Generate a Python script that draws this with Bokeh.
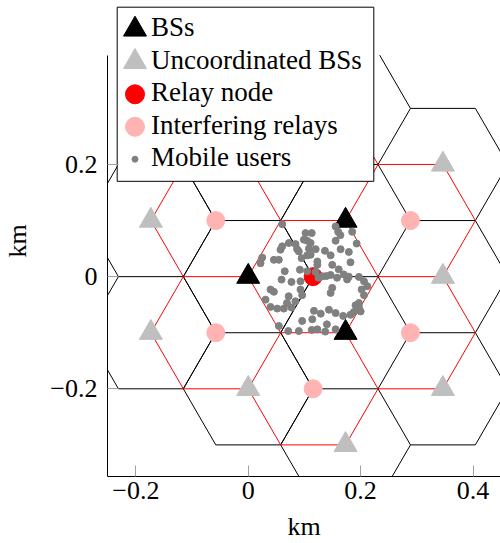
import math
from bokeh.plotting import figure
from bokeh.models import Range1d, FixedTicker, ColumnDataSource, Label
from bokeh.embed import file_html
from bokeh.resources import INLINE

# ---------------- data (km) ----------------
bs_x = [0.0, 0.1732, 0.1732]
bs_y = [0.0, 0.1, -0.1]

ubs_x = [-0.1732, -0.1732, 0.0, 0.0, 0.1732, 0.1732, 0.3464, 0.3464, 0.3464]
ubs_y = [0.1, -0.1, 0.2, -0.2, 0.3, -0.3, 0.2, 0.0, -0.2]

relay_x = [0.1155]
relay_y = [0.0]

irelay_x = [-0.0577, -0.0577, 0.1155, 0.1155, 0.2887, 0.2887]
irelay_y = [0.1, -0.1, 0.2, -0.2, 0.1, -0.1]

cell_radius = 0.1155

users_x = [0.0605, 0.102, 0.113, 0.1555, 0.160, 0.185, 0.105, 0.111, 0.1555, 0.0723,
           0.0842, 0.0605, 0.0575, 0.090, 0.108, 0.120, 0.1365, 0.1644, 0.095, 0.105,
           0.123, 0.0457, 0.0545, 0.0249, 0.0219, 0.1466, 0.182, 0.1495, 0.092, 0.065,
           0.105, 0.120, 0.132, 0.1466, 0.158, 0.170, 0.197, 0.0593, 0.077, 0.093,
           0.125, 0.093, 0.0397, 0.1495, 0.2018, 0.212, 0.0457, 0.096, 0.1466, 0.072,
           0.0308, 0.206, 0.069, 0.197, 0.0397, 0.0516, 0.0634, 0.077, 0.191, 0.188,
           0.1436, 0.1555, 0.169, 0.182, 0.117, 0.129, 0.114, 0.096, 0.0545, 0.0713,
           0.090, 0.123, 0.137, 0.140, 0.1555, 0.123, 0.206,
           0.193, 0.176, 0.113, 0.111, 0.179, 0.084, 0.200, 0.179, 0.161,
           0.099, 0.139, 0.087, 0.197, 0.164]
users_y = [0.0936, 0.0776, 0.0776, 0.0895, 0.080, 0.080, 0.064, 0.060, 0.064, 0.060,
           0.058, 0.054, 0.048, 0.045, 0.050, 0.049, 0.046, 0.049, 0.033, 0.038,
           0.027, 0.030, 0.030, 0.034, 0.024, 0.038, 0.0256, 0.021, 0.0124, 0.0096,
           0.0096, 0.0084, 0.0007, 0.003, -0.002, 0.004, -0.0005, -0.0053, -0.0094, -0.0083,
           -0.002, -0.023, -0.023, -0.020, -0.023, -0.017, -0.027, -0.033, -0.029, -0.035,
           -0.041, -0.033, -0.047, -0.047, -0.054, -0.057, -0.057, -0.055, -0.051, -0.063,
           -0.059, -0.065, -0.070, -0.068, -0.061, -0.066, -0.076, -0.079, -0.088, -0.097,
           -0.097, -0.094, -0.098, -0.085, -0.094, 0.021, -0.0083,
           0.059, -0.005, -0.095, 0.039, 0.044, -0.044, -0.062, 0.000, 0.013,
           0.066, 0.001, 0.049, -0.054, 0.074]

x_ticks = [-0.2, 0.0, 0.2, 0.4]
y_ticks = [-0.2, 0.0, 0.2]
x_tick_labels = ["\u22120.2", "0", "0.2", "0.4"]
y_tick_labels = ["\u22120.2", "0", "0.2"]

legend_labels = ["BSs", "Uncoordinated BSs", "Relay node", "Interfering relays", "Mobile users"]

x_min, x_max = -0.2504, 0.4489
y_min, y_axis_top = -0.3564, 0.395
y_frame_top = 0.4835

# ---------------- helpers ----------------
def hex_segments(cx, cy, r, ytop):
    segs = []
    pts = [(cx + r * math.cos(math.radians(a)), cy + r * math.sin(math.radians(a)))
           for a in range(0, 360, 60)]
    for i in range(6):
        x0, y0 = pts[i]
        x1, y1 = pts[(i + 1) % 6]
        if y0 > ytop and y1 > ytop:
            continue
        if y0 > ytop:
            t = (ytop - y0) / (y1 - y0)
            x0, y0 = x0 + t * (x1 - x0), ytop
        elif y1 > ytop:
            t = (ytop - y0) / (y1 - y0)
            x1, y1 = x0 + t * (x1 - x0), ytop
        segs.append((x0, y0, x1, y1))
    return segs


def unique_segments(centers_x, centers_y, r, ytop):
    seen = set()
    out = {"x0": [], "y0": [], "x1": [], "y1": []}
    for cx, cy in zip(centers_x, centers_y):
        for s in hex_segments(cx, cy, r, ytop):
            a = (round(s[0], 3), round(s[1], 3))
            b = (round(s[2], 3), round(s[3], 3))
            key = tuple(sorted([a, b]))
            if key in seen:
                continue
            seen.add(key)
            out["x0"].append(s[0]); out["y0"].append(s[1])
            out["x1"].append(s[2]); out["y1"].append(s[3])
    return out


W, H = 500, 543
LEFT, TOP, BOTTOM = 107, 5, 66
FRAME_W, FRAME_H = W - LEFT, H - TOP - BOTTOM

p = figure(width=W, height=H,
           x_range=Range1d(x_min, x_max), y_range=Range1d(y_min, y_frame_top),
           output_backend="svg", toolbar_location=None,
           min_border_left=LEFT, min_border_top=TOP, min_border_right=0,
           min_border_bottom=BOTTOM)
p.extra_x_ranges = {"px": Range1d(0, FRAME_W)}
p.extra_y_ranges = {"px": Range1d(FRAME_H, 0)}
p.outline_line_color = None
p.grid.visible = False
p.background_fill_color = "white"
p.border_fill_color = "white"

# cells
black = unique_segments(bs_x + ubs_x, bs_y + ubs_y, cell_radius, y_axis_top)
red = unique_segments(relay_x + irelay_x, relay_y + irelay_y, cell_radius, y_axis_top)
p.segment(x0="x0", y0="y0", x1="x1", y1="y1", source=ColumnDataSource(black),
          line_color="black", line_width=1)
p.segment(x0="x0", y0="y0", x1="x1", y1="y1", source=ColumnDataSource(red),
          line_color="#ff0000", line_width=1)

# nodes
p.scatter(bs_x, bs_y, marker="triangle", size=23, fill_color="black", line_color="black")
p.scatter(ubs_x, ubs_y, marker="triangle", size=23, fill_color="#bfbfbf", line_color="#bfbfbf")
p.scatter(relay_x, relay_y, marker="circle", size=18, fill_color="#ff0000", line_color="#ff0000")
p.scatter(irelay_x, irelay_y, marker="circle", size=18, fill_color="#ffb3b3", line_color="#ffb3b3")
p.scatter(users_x, users_y, marker="circle", size=7, fill_color="#808080", line_color="#808080")

# legend (drawn in pixel units of the frame)
p.quad(left=[9.7], right=[266.3], top=[1.7], bottom=[176.2], fill_color="white",
       line_color="black", line_width=1, x_range_name="px", y_range_name="px")
rows = [22 + 32.5 * i for i in range(5)]
leg = ColumnDataSource(dict(
    x=[27.5] * 5, y=[r + 2 for r in rows],
    marker=["triangle", "triangle", "circle", "circle", "circle"],
    size=[23, 23, 19, 19, 6],
    color=["black", "#bfbfbf", "#ff0000", "#ffb3b3", "#808080"]))
p.scatter(x="x", y="y", marker="marker", size="size", fill_color="color", line_color="color",
          source=leg, x_range_name="px", y_range_name="px")
for r, lab in zip(rows, legend_labels):
    p.add_layout(Label(x=43.5, y=r, text=lab, x_range_name="px", y_range_name="px",
                       text_font="Liberation Serif", text_font_size="27px",
                       text_baseline="middle", text_align="left", text_color="black"))

# axes
p.xaxis.ticker = FixedTicker(ticks=x_ticks)
p.yaxis.ticker = FixedTicker(ticks=y_ticks)
p.xaxis.major_label_overrides = {t: l for t, l in zip(x_ticks, x_tick_labels)}
p.yaxis.major_label_overrides = {t: l for t, l in zip(y_ticks, y_tick_labels)}
p.yaxis.bounds = (y_min, y_axis_top)
p.xaxis.axis_label = "km"
p.yaxis.axis_label = "km"
for ax in (p.xaxis, p.yaxis):
    ax.axis_line_color = "black"
    ax.axis_line_width = 1
    ax.major_tick_in = 11
    ax.major_tick_out = 0
    ax.minor_tick_line_color = None
    ax.major_tick_line_color = "#a0a0a0"
    ax.major_label_text_font = "Liberation Serif"
    ax.major_label_text_font_size = "26px"
    ax.major_label_text_color = "black"
    ax.axis_label_text_font = "Liberation Serif"
    ax.axis_label_text_font_size = "26px"
    ax.axis_label_text_font_style = "normal"
    ax.axis_label_text_color = "black"
p.xaxis.major_label_standoff = 5
p.xaxis.axis_label_standoff = 10
p.yaxis.major_label_standoff = 10
p.yaxis.axis_label_standoff = 15

open("out.html", "w").write(file_html(p, INLINE))
